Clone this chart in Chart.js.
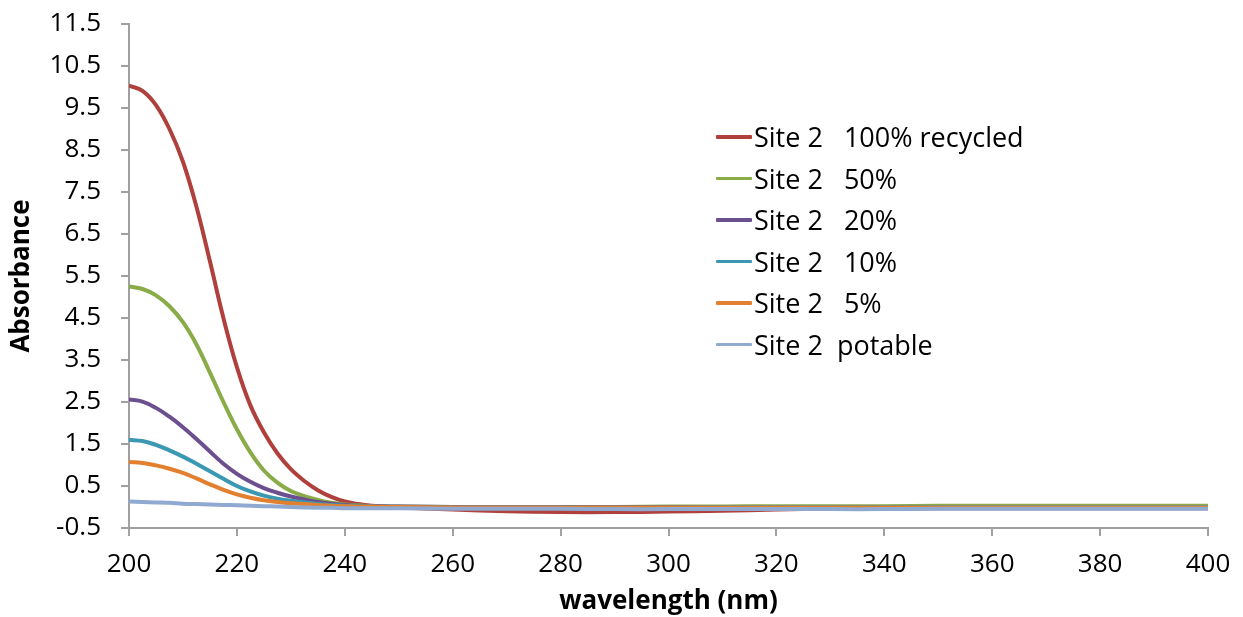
<!DOCTYPE html>
<html>
<head>
<meta charset="utf-8">
<script src="https://cdn.jsdelivr.net/npm/chart.js@4.4.1/dist/chart.umd.min.js"></script>
<style>
    body { margin: 0; background: #fff; }
    #wrap { position: relative; width: 1243px; height: 617px; }
    #legend { position: absolute; left: 716px; top: 116px; font-family: "Open Sans", sans-serif; font-size: 27px; color: #000; }
    .row { height: 41.5px; display: flex; align-items: center; white-space: pre; }
    .swatch { width: 36px; height: 3.5px; margin-right: 2px; border-radius: 1px; }
</style>
</head>
<body>
<div id="wrap">
    <canvas id="uvChart" width="1243" height="617"></canvas>
    <div id="legend"></div>
</div>
<script>
// UV-vis absorbance scans, wavelength in nm
const wavelengths = [200, 202.5, 205, 207.5, 210, 212.5, 215, 217.5, 220, 222.5, 225, 227.5, 230, 232.5, 235, 237.5, 240, 242.5, 245, 247.5, 250,
    260, 270, 280, 290, 300, 310, 320, 330, 340, 350, 360, 370, 380, 390, 400];

const recycled100 = [10.03, 9.91, 9.57, 9.0, 8.22, 7.15, 5.85, 4.5, 3.33, 2.42, 1.78, 1.28, 0.9, 0.62, 0.4, 0.24, 0.13, 0.07, 0.03, 0.01, -0.01,
    -0.06, -0.1, -0.12, -0.12, -0.11, -0.09, -0.06, -0.04, -0.03, -0.03, -0.03, -0.03, -0.03, -0.03, -0.03];
const blend50 = [5.25, 5.19, 5.04, 4.78, 4.4, 3.87, 3.2, 2.5, 1.85, 1.3, 0.87, 0.58, 0.38, 0.26, 0.17, 0.1, 0.06, 0.04, 0.02, 0.01, 0.01,
    0.0, 0.0, 0.0, 0.0, 0.01, 0.01, 0.02, 0.02, 0.02, 0.03, 0.03, 0.03, 0.03, 0.03, 0.03];
const blend20 = [2.56, 2.51, 2.36, 2.15, 1.9, 1.62, 1.32, 1.03, 0.79, 0.6, 0.45, 0.34, 0.25, 0.18, 0.12, 0.08, 0.05, 0.03, 0.02, 0.01, 0.01,
    0.0, 0.0, 0.0, 0.0, 0.0, 0.0, 0.0, 0.0, 0.0, 0.0, 0.0, 0.0, 0.0, 0.0, 0.0];
const blend10 = [1.6, 1.57, 1.48, 1.35, 1.2, 1.03, 0.85, 0.67, 0.5, 0.37, 0.27, 0.2, 0.15, 0.11, 0.07, 0.05, 0.03, 0.02, 0.01, 0.0, 0.0,
    -0.01, -0.01, -0.01, -0.01, -0.01, 0.0, 0.0, 0.0, 0.0, 0.0, 0.0, 0.0, 0.0, 0.0, 0.0];
const blend5 = [1.07, 1.05, 0.99, 0.91, 0.81, 0.68, 0.54, 0.41, 0.3, 0.22, 0.16, 0.12, 0.09, 0.07, 0.05, 0.03, 0.02, 0.01, 0.01, 0.0, 0.0,
    -0.01, -0.01, -0.01, -0.01, -0.01, -0.01, -0.01, -0.01, -0.01, -0.01, -0.01, -0.01, -0.01, -0.01, -0.01];
const potable = [0.13, 0.12, 0.11, 0.1, 0.08, 0.07, 0.06, 0.05, 0.04, 0.03, 0.02, 0.01, 0.0, -0.01, -0.02, -0.02, -0.03, -0.03, -0.03, -0.03, -0.03,
    -0.04, -0.04, -0.04, -0.05, -0.05, -0.05, -0.05, -0.05, -0.05, -0.04, -0.04, -0.04, -0.04, -0.04, -0.04];

const seriesNames = ['Site 2   100% recycled', 'Site 2   50%', 'Site 2   20%', 'Site 2   10%', 'Site 2   5%', 'Site 2  potable'];
const seriesValues = [recycled100, blend50, blend20, blend10, blend5, potable];
const seriesColors = ['#B0403C', '#8AAC48', '#6C4F8E', '#3A98B2', '#E2802F', '#90A9D0'];

const yTicks = [-0.5, 11.5, 1];
const xTicks = [200, 400, 20];

const FONT = '"Open Sans", sans-serif';
const AXIS_GREY = '#A0A0A0';

const datasets = seriesValues.map((vals, i) => ({
    label: seriesNames[i],
    data: vals.map((v, j) => ({ x: wavelengths[j], y: v })),
    borderColor: seriesColors[i],
    backgroundColor: seriesColors[i],
    borderWidth: 4,
    pointRadius: 0,
    tension: 0.4,
    // later series sit on top
    order: seriesValues.length - i
}));

new Chart(document.getElementById('uvChart'), {
    type: 'line',
    data: { datasets: datasets },
    options: {
        responsive: false,
        animation: false,
        layout: { padding: { top: 24, right: 35, left: 0, bottom: 0 } },
        plugins: {
            legend: { display: false },
            tooltip: { enabled: false }
        },
        scales: {
            x: {
                type: 'linear',
                min: xTicks[0],
                max: xTicks[1],
                ticks: { stepSize: xTicks[2], color: '#000', padding: 13, font: { family: FONT, size: 26 } },
                grid: { drawOnChartArea: false, drawTicks: true, tickLength: 8, color: AXIS_GREY, lineWidth: 2 },
                border: { color: AXIS_GREY, width: 2 },
                title: { display: true, text: 'wavelength (nm)', color: '#000', padding: { top: 0, bottom: 0 }, font: { family: FONT, size: 26, weight: 'bold' } },
                afterFit: scale => {
                    scale.height = 89;
                    scale.paddingLeft = 0;
                    scale.paddingRight = 0;
                }
            },
            y: {
                min: yTicks[0],
                max: yTicks[1],
                ticks: {
                    stepSize: yTicks[2],
                    color: '#000',
                    padding: 20,
                    font: { family: FONT, size: 26 },
                    callback: v => v.toFixed(1)
                },
                grid: { drawOnChartArea: false, drawTicks: true, tickLength: 8, color: AXIS_GREY, lineWidth: 2 },
                border: { color: AXIS_GREY, width: 2 },
                title: { display: true, text: 'Absorbance', color: '#000', padding: { top: 6, bottom: 0 }, font: { family: FONT, size: 26, weight: 'bold' } },
                afterFit: scale => {
                    scale.width = 129;
                    scale.paddingTop = 0;
                    scale.paddingBottom = 0;
                }
            }
        }
    }
});

// legend box inside the plot
const legendEl = document.getElementById('legend');
seriesNames.forEach((name, i) => {
    const row = document.createElement('div');
    row.className = 'row';
    const sw = document.createElement('span');
    sw.className = 'swatch';
    sw.style.background = seriesColors[i];
    const txt = document.createElement('span');
    txt.textContent = name;
    row.appendChild(sw);
    row.appendChild(txt);
    legendEl.appendChild(row);
});
</script>
</body>
</html>
